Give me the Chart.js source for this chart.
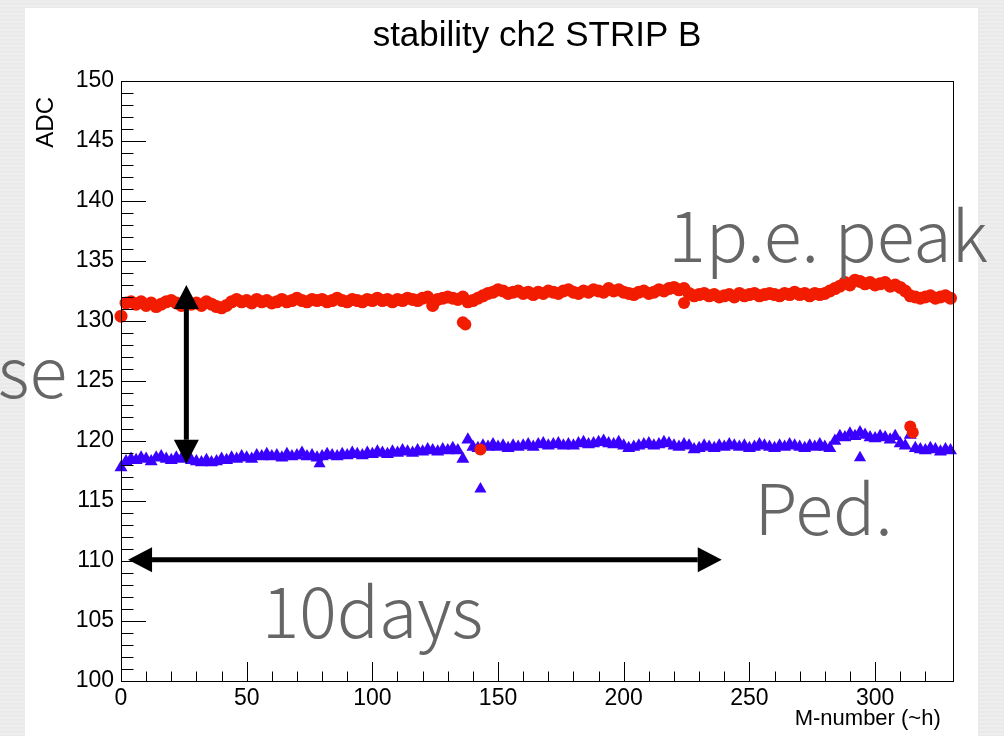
<!DOCTYPE html>
<html>
<head>
<meta charset="utf-8">
<title>stability ch2 STRIP B</title>
<script src="https://cdn.jsdelivr.net/npm/chart.js@4.4.1/dist/chart.umd.min.js"></script>
<style>
  html, body { margin: 0; padding: 0; }
  body {
    width: 1004px; height: 736px; position: relative; overflow: hidden;
    background: #ebebeb repeating-linear-gradient(0deg, #e6e6e6 0px, #f0f0f0 2px, #e8e8e8 4px);
  }
  .panel { position: absolute; left: 25px; top: 8px; width: 953px; height: 728px; background: #fff; }
  #chart { position: absolute; left: 0; top: 0; }
</style>
</head>
<body>
<div class="panel"></div>
<canvas id="chart" width="1004" height="736"></canvas>
<script>
// 1p.e. peak (red circles), one reading every 2 M-numbers from 0 to 330
const hourStep = 2;
const peakAdc = [
  130.4, 131.5, 131.6, 131.4, 131.6, 131.3, 131.5, 131.2, 131.4, 131.6,
  131.7, 131.5, 131.3, 131.6, 131.4, 131.5, 131.3, 131.6, 131.4, 131.2,
  131.1, 131.3, 131.6, 131.8, 131.6, 131.7, 131.5, 131.8, 131.6, 131.7,
  131.5, 131.6, 131.8, 131.6, 131.7, 131.9, 131.7, 131.6, 131.8, 131.7,
  131.8, 131.6, 131.7, 131.9, 131.7, 131.6, 131.8, 131.7, 131.6, 131.8,
  131.7, 131.9, 131.7, 131.8, 131.6, 131.8, 131.7, 131.9, 131.8, 131.7,
  131.9, 132.0, 131.3, 131.8, 131.9, 132.0, 131.9, 131.8, 132.0, 131.6,
  131.7, 131.9, 132.1, 132.3, 132.4, 132.6, 132.5, 132.3, 132.4, 132.5,
  132.3, 132.4, 132.2, 132.4, 132.3, 132.5, 132.4, 132.3, 132.5, 132.6,
  132.4, 132.3, 132.5, 132.4, 132.6, 132.5, 132.4, 132.7, 132.5, 132.6,
  132.4, 132.3, 132.2, 132.4, 132.5, 132.3, 132.4, 132.6, 132.5, 132.7,
  132.8, 132.6, 132.7, 132.3, 132.1, 132.2, 132.3, 132.1, 132.2, 132.0,
  132.1, 132.2, 132.0, 132.3, 132.1, 132.2, 132.3, 132.1, 132.2, 132.3,
  132.2, 132.1, 132.3, 132.2, 132.4, 132.2, 132.3, 132.1, 132.3, 132.2,
  132.3, 132.5, 132.7, 132.9, 133.2, 133.0, 133.4, 133.3, 133.1, 133.2,
  133.0, 133.1, 133.2, 132.9, 133.0, 132.8, 132.5, 132.1, 132.0, 131.9,
  132.0, 132.1, 131.9, 132.0, 132.1, 131.9
];
const peakOutlierHours = [136, 137, 143, 224, 314, 315];
const peakOutlierAdc = [129.9, 129.7, 119.3, 131.5, 121.2, 120.7];

// Ped. (blue triangles), same sampling
const pedAdc = [
  117.8, 118.3, 118.5, 118.4, 118.6, 118.5, 118.3, 118.6, 118.7, 118.5,
  118.4, 118.6, 118.5, 118.7, 118.4, 118.3, 118.2, 118.4, 118.2, 118.3,
  118.5, 118.4, 118.6, 118.5, 118.7, 118.6, 118.5, 118.8, 118.7, 118.9,
  118.7, 118.8, 118.6, 118.9, 118.7, 118.8, 119.0, 118.7, 118.8, 118.6,
  118.7, 118.9, 118.8, 118.7, 118.9, 118.8, 119.0, 118.9, 118.8, 119.0,
  118.9, 119.1, 119.0, 118.9, 119.1, 119.0, 119.2, 119.1, 119.0, 119.2,
  119.1, 119.3, 119.2, 119.1, 119.3, 119.2, 119.4, 119.2, 118.5, 120.1,
  119.5, 119.4, 119.6, 119.5, 119.7, 119.5, 119.6, 119.4, 119.6, 119.5,
  119.6, 119.7, 119.5, 119.7, 119.8, 119.6, 119.7, 119.8, 119.6, 119.7,
  119.6, 119.8, 119.9, 119.7, 119.8, 119.9, 120.0, 119.8, 119.7, 119.9,
  119.6, 119.4, 119.5, 119.6, 119.7, 119.8, 119.6, 119.7, 119.9, 119.8,
  119.6, 119.5, 119.7, 119.6, 119.3, 119.4, 119.6, 119.5, 119.4, 119.6,
  119.5, 119.7, 119.6, 119.5, 119.6, 119.4, 119.5, 119.7, 119.6, 119.5,
  119.4, 119.6, 119.5, 119.7, 119.6, 119.5, 119.4, 119.6, 119.5, 119.7,
  119.5, 119.4, 120.0, 120.4, 120.3, 120.6, 120.4, 120.7, 120.5, 120.3,
  120.2, 120.4, 120.3, 120.1, 120.4, 119.8, 119.6, 120.5, 119.4, 119.3,
  119.2, 119.4, 119.3, 119.1, 119.3, 119.2
];
const pedOutlierHours = [79, 143, 294];
const pedOutlierAdc = [118.1, 116.0, 118.6];

const xMax = 331;
const yMin = 100;
const yMax = 150;

const RED = 'rgb(242, 28, 0)';
const BLUE = 'rgb(58, 0, 255)';
const NOTE = 'rgb(102, 102, 102)';
const NOTE_FONT = '300 70px "Noto Sans CJK JP", "Noto Sans", sans-serif';
const FONT = '"Liberation Sans", Arial, sans-serif';

const toPoints = (values) => values.map((v, i) => ({ x: i * hourStep, y: v }));
const pairPoints = (xs, ys) => xs.map((x, i) => ({ x: x, y: ys[i] }));

// ROOT style frame with inward ticks, plus the slide annotations
const rootFrame = {
  id: 'rootFrame',
  afterDatasetsDraw(chart) {
    const { ctx, chartArea: a, scales: { x, y } } = chart;
    ctx.save();
    ctx.strokeStyle = '#000';
    ctx.lineWidth = 1;
    ctx.strokeRect(Math.round(a.left) + 0.5, Math.round(a.top) + 0.5,
      Math.round(a.right - a.left), Math.round(a.bottom - a.top));

    ctx.beginPath();
    y.ticks.forEach((t) => {
      if (!Number.isInteger(t.value)) return;
      const py = Math.round(y.getPixelForValue(t.value)) + 0.5;
      const len = t.value % 5 === 0 ? 25 : 12.5;
      ctx.moveTo(a.left, py);
      ctx.lineTo(a.left + len, py);
    });
    x.ticks.forEach((t) => {
      if (t.value % 10 !== 0) return;
      const px = Math.round(x.getPixelForValue(t.value)) + 0.5;
      const len = t.value % 50 === 0 ? 19 : 9.5;
      ctx.moveTo(px, a.bottom);
      ctx.lineTo(px, a.bottom - len);
    });
    ctx.stroke();

    // y axis title, ROOT puts it flush with the top of the axis
    ctx.fillStyle = '#000';
    ctx.font = '24px ' + FONT;
    ctx.translate(53, a.top + 16);
    ctx.rotate(-Math.PI / 2);
    ctx.textAlign = 'right';
    ctx.textBaseline = 'alphabetic';
    ctx.fillText('ADC', 0, 0);
    ctx.setTransform(1, 0, 0, 1, 0, 0);

    // arrows
    const arrow = (x1, y1, x2, y2) => {
      const ax = x.getPixelForValue(x1), ay = y.getPixelForValue(y1);
      const bx = x.getPixelForValue(x2), by = y.getPixelForValue(y2);
      const ang = Math.atan2(by - ay, bx - ax);
      const head = 24, half = 12.5;
      ctx.strokeStyle = '#000';
      ctx.fillStyle = '#000';
      ctx.lineWidth = 5;
      ctx.beginPath();
      ctx.moveTo(ax + Math.cos(ang) * head, ay + Math.sin(ang) * head);
      ctx.lineTo(bx - Math.cos(ang) * head, by - Math.sin(ang) * head);
      ctx.stroke();
      [[ax, ay, ang], [bx, by, ang + Math.PI]].forEach(([tx, ty, d]) => {
        const cx = tx + Math.cos(d) * head, cy = ty + Math.sin(d) * head;
        ctx.beginPath();
        ctx.moveTo(tx, ty);
        ctx.lineTo(cx - Math.sin(d) * half, cy + Math.cos(d) * half);
        ctx.lineTo(cx + Math.sin(d) * half, cy - Math.cos(d) * half);
        ctx.closePath();
        ctx.fill();
      });
    };
    arrow(26, 133.0, 26, 118.1);
    arrow(2.8, 110.1, 239, 110.1);

    // gray slide notes
    ctx.fillStyle = NOTE;
    ctx.font = NOTE_FONT;
    ctx.textBaseline = 'alphabetic';
    ctx.textAlign = 'left';
    const note = (text, xv, yv) => ctx.fillText(text, x.getPixelForValue(xv), y.getPixelForValue(yv));
    note('1p.e. peak', 217.7, 134.9);
    note('Ped.', 252, 112.2);
    note('10days', 56, 103.6);
    note('se', -49, 123.6);
    ctx.restore();
  }
};

new Chart(document.getElementById('chart'), {
  type: 'scatter',
  data: {
    datasets: [
      { label: '1p.e. peak', data: toPoints(peakAdc), pointStyle: 'circle', pointRadius: 6.5,
        backgroundColor: RED, borderColor: RED, borderWidth: 0 },
      { label: '1p.e. peak outliers', data: pairPoints(peakOutlierHours, peakOutlierAdc), pointStyle: 'circle',
        pointRadius: 6, backgroundColor: RED, borderColor: RED, borderWidth: 0 },
      { label: 'Ped.', data: toPoints(pedAdc), pointStyle: 'triangle', pointRadius: 7.5,
        backgroundColor: BLUE, borderColor: BLUE, borderWidth: 0 },
      { label: 'Ped. outliers', data: pairPoints(pedOutlierHours, pedOutlierAdc), pointStyle: 'triangle',
        pointRadius: 7, backgroundColor: BLUE, borderColor: BLUE, borderWidth: 0 }
    ]
  },
  options: {
    responsive: false,
    animation: false,
    clip: false,
    layout: { padding: { left: 0, right: 51, top: 0, bottom: 0 } },
    plugins: {
      legend: { display: false },
      tooltip: { enabled: false },
      title: {
        display: true,
        text: 'stability ch2 STRIP B',
        fullSize: false,
        color: '#000',
        font: { family: FONT, size: 35, weight: 'normal' },
        padding: { top: 15, bottom: 24 }
      }
    },
    scales: {
      x: {
        type: 'linear',
        min: 0,
        max: xMax,
        grid: { display: false, drawTicks: false },
        border: { display: false },
        afterFit(scale) { scale.height = 55; },
        ticks: {
          stepSize: 10,
          autoSkip: false,
          maxRotation: 0,
          padding: 4,
          color: '#000',
          font: { family: FONT, size: 23 },
          callback: (v) => (v % 50 === 0 ? String(v) : '')
        },
        title: {
          display: true,
          text: 'M-number (~h)  ',
          align: 'end',
          color: '#000',
          font: { family: FONT, size: 22 },
          padding: { top: 0, bottom: 4 }
        }
      },
      y: {
        type: 'linear',
        min: yMin,
        max: yMax,
        grid: { display: false, drawTicks: false },
        border: { display: false },
        afterFit(scale) { scale.width = 121; },
        ticks: {
          stepSize: 1,
          autoSkip: false,
          padding: 7,
          color: '#000',
          font: { family: FONT, size: 23 },
          callback: (v) => (v % 5 === 0 ? String(v) : '')
        }
      }
    }
  },
  plugins: [rootFrame]
});
</script>
</body>
</html>
